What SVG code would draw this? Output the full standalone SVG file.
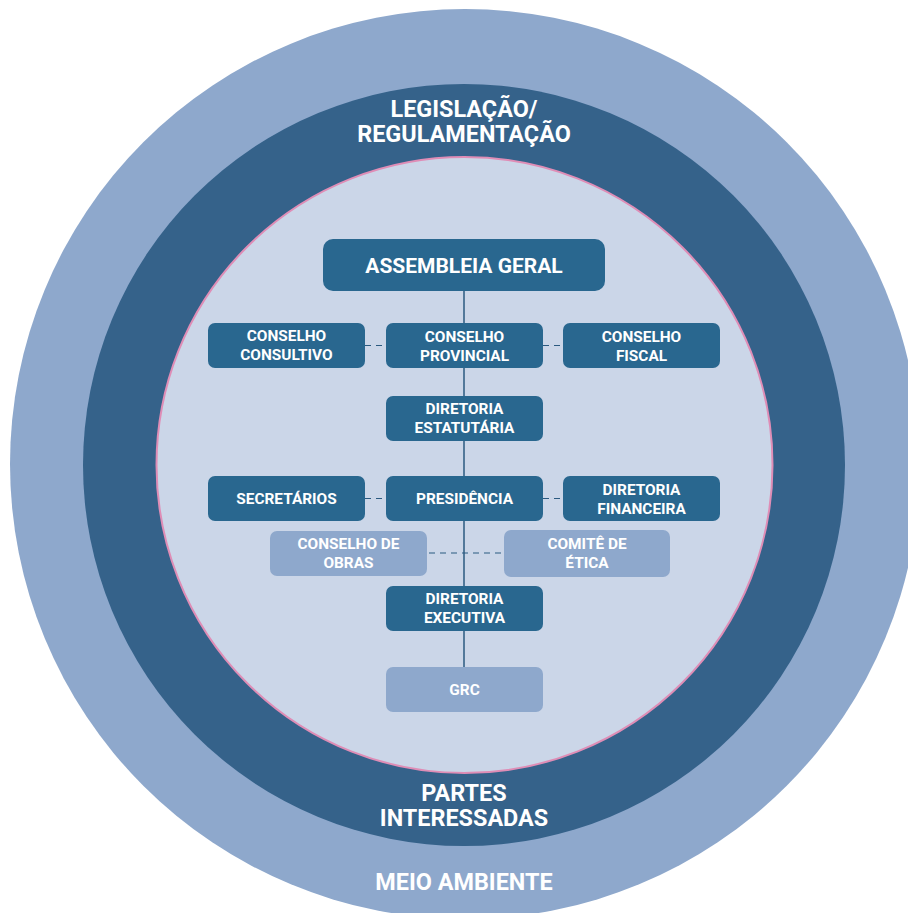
<svg xmlns="http://www.w3.org/2000/svg" width="908" height="913" viewBox="0 0 908 913">
<defs>
<style>
.t{font-family:Roboto,"Liberation Sans",Arial,sans-serif;font-weight:bold;fill:#ffffff;text-anchor:middle}
.ring{font-size:23.4px}
.lbl{font-size:15.4px}
.big{font-size:21px}
.bd{fill:#29678F}
.bl{fill:#8EA8CC}
.ln{stroke:#2B5A80;stroke-width:1.5;fill:none}
.dl{stroke:#2B5A80;stroke-width:1.2;fill:none;stroke-dasharray:6 5}
</style>
</defs>
<rect width="908" height="913" fill="#ffffff"/>
<g id="rings">
<circle cx="465" cy="464" r="455" fill="#8EA8CC"/>
<circle cx="464" cy="465" r="381" fill="#35628A"/>
<circle cx="464.5" cy="465" r="308" fill="#CBD6E8" stroke="#DF8DB6" stroke-width="2"/>
<text class="t ring" x="464" y="117">LEGISLAÇÃO/</text>
<text class="t ring" x="464" y="142">REGULAMENTAÇÃO</text>
<text class="t ring" x="464" y="801">PARTES</text>
<text class="t ring" x="464" y="826">INTERESSADAS</text>
<text class="t ring" x="464" y="890">MEIO AMBIENTE</text>
</g>
<g id="connectors">
<line class="ln" x1="464" y1="291" x2="464" y2="667"/>
<line class="dl" x1="365" y1="345.5" x2="386" y2="345.5"/>
<line class="dl" x1="543" y1="345.5" x2="563" y2="345.5"/>
<line class="dl" x1="365" y1="498.5" x2="386" y2="498.5"/>
<line class="dl" x1="543" y1="498.5" x2="563" y2="498.5"/>
<line class="dl" x1="429" y1="553" x2="503" y2="553"/>
</g>
<g id="assembleia">
<rect class="bd" x="323" y="239" width="282" height="52" rx="10"/>
<text class="t big" x="464" y="272.5">ASSEMBLEIA GERAL</text>
</g>
<g id="consultivo">
<rect class="bd" x="208" y="323" width="157" height="45" rx="7"/>
<text class="t lbl" x="286.5" y="341">CONSELHO</text>
<text class="t lbl" x="286.5" y="359.5">CONSULTIVO</text>
</g>
<g id="provincial">
<rect class="bd" x="386" y="323" width="157" height="45" rx="7"/>
<text class="t lbl" x="464.5" y="342">CONSELHO</text>
<text class="t lbl" x="464.5" y="360.5">PROVINCIAL</text>
</g>
<g id="fiscal">
<rect class="bd" x="563" y="323" width="157" height="45" rx="7"/>
<text class="t lbl" x="641.5" y="342">CONSELHO</text>
<text class="t lbl" x="641.5" y="360.5">FISCAL</text>
</g>
<g id="estatutaria">
<rect class="bd" x="386" y="396" width="157" height="45" rx="7"/>
<text class="t lbl" x="464.5" y="414">DIRETORIA</text>
<text class="t lbl" x="464.5" y="432.5">ESTATUTÁRIA</text>
</g>
<g id="secretarios">
<rect class="bd" x="208" y="476" width="157" height="45" rx="7"/>
<text class="t lbl" x="286.5" y="504">SECRETÁRIOS</text>
</g>
<g id="presidencia">
<rect class="bd" x="386" y="476" width="157" height="45" rx="7"/>
<text class="t lbl" x="464.5" y="504">PRESIDÊNCIA</text>
</g>
<g id="financeira">
<rect class="bd" x="563" y="476" width="157" height="45" rx="7"/>
<text class="t lbl" x="641.5" y="495">DIRETORIA</text>
<text class="t lbl" x="641.5" y="513.5">FINANCEIRA</text>
</g>
<g id="obras">
<rect class="bl" x="270" y="531" width="157" height="45" rx="7"/>
<text class="t lbl" x="348.5" y="549">CONSELHO DE</text>
<text class="t lbl" x="348.5" y="567.5">OBRAS</text>
</g>
<g id="etica">
<rect class="bl" x="504" y="530" width="166" height="47" rx="7"/>
<text class="t lbl" x="587" y="549">COMITÊ DE</text>
<text class="t lbl" x="587" y="567.5">ÉTICA</text>
</g>
<g id="executiva">
<rect class="bd" x="386" y="586" width="157" height="45" rx="7"/>
<text class="t lbl" x="464.5" y="604">DIRETORIA</text>
<text class="t lbl" x="464.5" y="622.5">EXECUTIVA</text>
</g>
<g id="grc">
<rect class="bl" x="386" y="667" width="157" height="45" rx="7"/>
<text class="t lbl" x="464.5" y="694.5">GRC</text>
</g>
</svg>
